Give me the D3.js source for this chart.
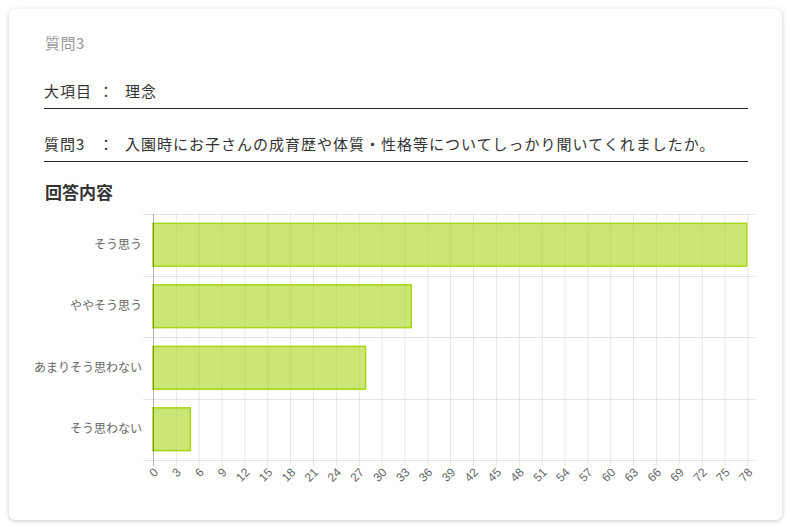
<!DOCTYPE html>
<html lang="ja">
<head>
  <meta charset="UTF-8">
  <title>質問3</title>
  <style>
    body, html {
      margin: 0;
      padding: 0;
      width: 790px;
      height: 530px;
      background: #fff;
      font-family: "Noto Sans CJK JP", "Noto Sans", sans-serif;
      overflow: hidden;
    }
    #card {
      position: absolute;
      left: 9px;
      top: 9px;
      width: 773px;
      height: 511px;
      background: #fff;
      border-radius: 6px;
      box-shadow: 0 1px 5px rgba(0, 0, 0, 0.22);
    }
    #chart {
      position: absolute;
      left: 0;
      top: 0;
    }
  </style>
</head>
<body>
  <div id="card"></div>
  <svg id="chart" width="790" height="530"></svg>

  <script src="https://d3js.org/d3.v7.min.js"></script>
  <script>
    // -------- DATA ------------
    const pageTitle = "質問3"
    const rowLabels = ["大項目", "質問3"]
    const rowValues = ["理念", "入園時にお子さんの成育歴や体質・性格等についてしっかり聞いてくれましたか。"]
    const sectionTitle = "回答内容"

    const categories = ["そう思う", "ややそう思う", "あまりそう思わない", "そう思わない"]
    const counts = [78, 34, 28, 5]
    const xTicks = [0, 3, 6, 9, 12, 15, 18, 21, 24, 27, 30, 33, 36, 39, 42, 45, 48, 51, 54, 57, 60, 63, 66, 69, 72, 75, 78]
    const xMax = 79

    const svg = d3.select("#chart")

    // -------- HEADER ------------
    svg.append("text")
      .attr("x", 45)
      .attr("y", 44)
      .attr("dy", "0.35em")
      .style("font-size", "15px")
      .style("letter-spacing", "0.5px")
      .attr("fill", "#999")
      .text(pageTitle)

    const rowY = [92, 145]
    const lineY = [108.5, 161.5]
    rowLabels.forEach((label, i) => {
      const g = svg.append("g")
        .style("font-size", "15px")
        .style("letter-spacing", "1px")
        .attr("fill", "#333")
      g.append("text").attr("x", 44).attr("y", rowY[i]).attr("dy", "0.35em").text(label)
      g.append("text").attr("x", 106).attr("y", rowY[i]).attr("dy", "0.35em")
        .attr("text-anchor", "middle").style("letter-spacing", "0").text("：")
      g.append("text").attr("x", 125).attr("y", rowY[i]).attr("dy", "0.35em").text(rowValues[i])
      svg.append("line")
        .attr("x1", 44).attr("x2", 748)
        .attr("y1", lineY[i]).attr("y2", lineY[i])
        .attr("stroke", "#1f2a37")
        .attr("stroke-width", 1.2)
    })

    svg.append("text")
      .attr("x", 45)
      .attr("y", 193)
      .attr("dy", "0.35em")
      .style("font-size", "17px")
      .style("font-weight", "700")
      .attr("fill", "#333")
      .text(sectionTitle)

    // -------- SCALES ------------
    const plot = {left: 153, right: 755, top: 214, bottom: 460}

    const xScale = d3.scaleLinear()
      .domain([0, xMax])
      .range([plot.left, plot.right])

    // slots for the grid, bands for the bars (Chart.js style 0.8 * 0.9)
    const ySlot = d3.scaleBand()
      .domain(categories)
      .range([plot.top, plot.bottom])
      .padding(0)

    const yScale = d3.scaleBand()
      .domain(categories)
      .range([plot.top, plot.bottom])
      .paddingInner(0.28)
      .paddingOuter(0.14)

    const labelFont = "'Liberation Sans', 'Noto Sans CJK JP', sans-serif"

    // -------- GRID ------------
    const grid = svg.append("g")

    // vertical grid lines (with tick marks below the plot)
    grid.selectAll(".vgrid")
      .data(xTicks.filter(t => t !== 0))
      .enter()
      .append("line")
      .attr("x1", d => xScale(d) + 0.5)
      .attr("x2", d => xScale(d) + 0.5)
      .attr("y1", plot.top)
      .attr("y2", plot.bottom + 6)
      .attr("stroke", "rgba(0,0,0,0.1)")

    // horizontal grid lines at category boundaries (with ticks on the left)
    const hLines = categories.map(c => ySlot(c)).concat([plot.bottom])
    grid.selectAll(".hgrid")
      .data(hLines)
      .enter()
      .append("line")
      .attr("x1", plot.left - 10)
      .attr("x2", plot.right)
      .attr("y1", d => Math.round(d) + 0.5)
      .attr("y2", d => Math.round(d) + 0.5)
      .attr("stroke", "rgba(0,0,0,0.1)")

    // -------- BARS ------------
    const bw = 1.5
    svg.selectAll(".bar")
      .data(categories.map((c, i) => ({category: c, value: counts[i]})))
      .enter()
      .append("rect")
      .attr("class", "bar")
      .attr("x", xScale(0))
      .attr("y", d => yScale(d.category) + bw / 2)
      .attr("width", d => xScale(d.value) - xScale(0) - bw / 2)
      .attr("height", yScale.bandwidth() - bw)
      .attr("fill", "rgba(163,214,17,0.58)")
      .attr("stroke", "rgb(166,214,20)")
      .attr("stroke-width", bw)

    // zero line
    svg.append("line")
      .attr("x1", xScale(0) + 0.5)
      .attr("x2", xScale(0) + 0.5)
      .attr("y1", plot.top)
      .attr("y2", plot.bottom + 6)
      .attr("stroke", "rgba(0,0,0,0.3)")

    // -------- AXIS LABELS ------------
    svg.selectAll(".ylabel")
      .data(categories)
      .enter()
      .append("text")
      .attr("x", plot.left - 11)
      .attr("y", d => ySlot(d) + ySlot.bandwidth() / 2)
      .attr("dy", "0.35em")
      .attr("text-anchor", "end")
      .style("font-family", labelFont)
      .style("font-size", "12px")
      .attr("fill", "#666")
      .text(d => d)

    svg.selectAll(".xlabel")
      .data(xTicks)
      .enter()
      .append("text")
      .attr("transform", d => `translate(${xScale(d) + 3}, ${plot.bottom + 10}) rotate(-45)`)
      .attr("dy", "0.35em")
      .attr("text-anchor", "end")
      .style("font-family", labelFont)
      .style("font-size", "12px")
      .attr("fill", "#666")
      .text(d => d)
  </script>
</body>
</html>
